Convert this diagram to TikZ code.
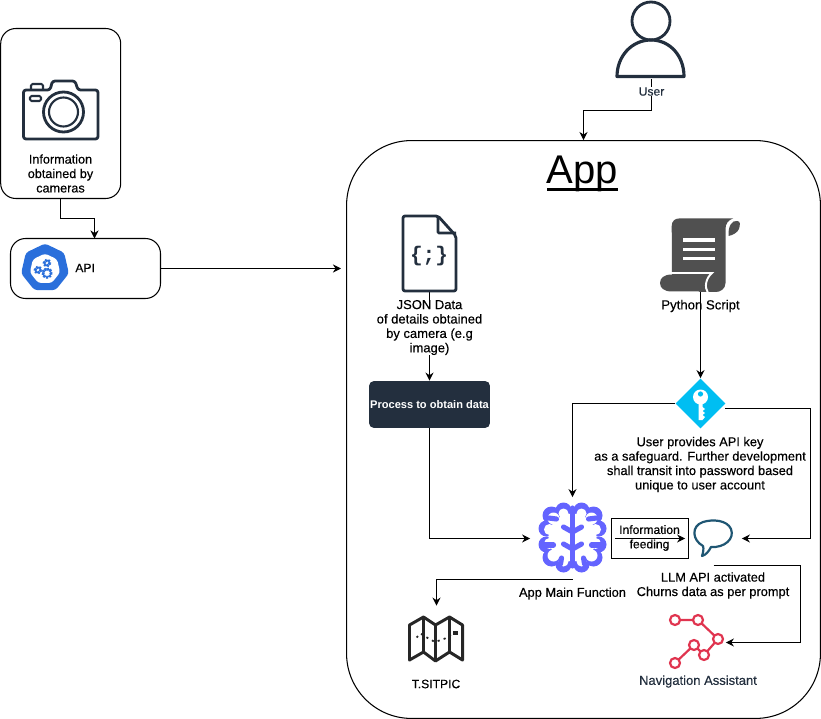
\documentclass[tikz,border=0pt]{standalone}
\usepackage{fontspec}
\setmainfont{Liberation Sans}
\newfontfamily\lablfont[FakeBold=0.35]{Liberation Sans}
\newfontfamily\monofont{Liberation Mono}
\usetikzlibrary{arrows.meta,shapes.geometric}
\definecolor{dark1}{HTML}{232F3E}
\definecolor{gray1}{HTML}{505050}
\definecolor{blue1}{HTML}{2A6FDB}
\definecolor{cyan1}{HTML}{00BEF2}
\definecolor{purple1}{HTML}{6464FF}
\definecolor{teal1}{HTML}{1F5673}
\definecolor{red1}{HTML}{E0344F}
\tikzset{
  boxr/.style={draw,line width=0.6pt,rounded corners=0.3cm,inner sep=0},
  iconspot/.style={inner sep=0},
  labl/.style={inner sep=0,align=center,font=\fontsize{#1}{8.2}\lablfont},
  labl/.default=7.4,
  conn/.style={line width=0.6pt,->},
  ink/.style={draw=dark1,line width=1.6pt,line join=round},
  brainarm/.style={purple1,line width=2.9pt,line cap=round,line join=round}
}

\begin{document}
\begin{tikzpicture}[>={Stealth[length=4.6pt,width=4.6pt]},x=0.02cm,y=-0.02cm]

    \useasboundingbox (0,0) rectangle (821,719);

    % boxes
    \node[boxr,minimum width=2.4cm,minimum height=3.4cm] (cambox) at (60.7,113.5) {};
    \node[boxr,minimum width=3cm,minimum height=1.2cm] (apibox) at (85.5,268.5) {};
    \node[boxr,rounded corners=1.3cm,minimum width=9.48cm,minimum height=11.56cm] (appbox) at (583.5,429.5) {};
    \node[fill=dark1,rounded corners=0.1cm,inner sep=0,minimum width=2.42cm,minimum height=0.94cm,
      text=white,font=\fontsize{6.3}{8.2}\selectfont\bfseries] (procbox) at (429.5,404.5) {Process to obtain data};
    \node[draw,line width=0.6pt,inner sep=0,minimum width=1.54cm,minimum height=0.8cm] (feedbox) at (650,538.5) {};

    % spots of the icons
    \node[iconspot,minimum width=1.4cm,minimum height=1.56cm] (userimg) at (651.5,39.5) {};
    \node[iconspot,minimum width=1.1cm,minimum height=1.54cm] (fileimg) at (429.5,253.5) {};
    \node[iconspot,minimum width=1.6cm,minimum height=1.48cm] (scriptimg) at (700.5,255) {};
    \node[diamond,fill=cyan1,inner sep=0,minimum width=1cm,minimum height=1cm] (keyimg) at (700.5,403.5) {};
    \node[iconspot,minimum width=1.68cm,minimum height=1.64cm] (brainimg) at (572.5,538.5) {};
    \node[iconspot,minimum width=1.12cm,minimum height=1.08cm] (bubbleimg) at (713.5,538.5) {};
    \node[iconspot,minimum width=1.08cm,minimum height=1.32cm] (mapimg) at (436.5,639) {};
    \node[iconspot,minimum width=1.08cm,minimum height=1.0cm] (navimg) at (698.5,642.5) {};

    \coordinate (apitop) at (94.5,238.5);
    \coordinate (appin) at (341,268.5);
    \coordinate (keyout) at (725,408.5);

    % connectors
    \draw[conn] (cambox.south) --++ (0,19.8) -| (apitop);
    \draw[conn] (apibox.east) -- (appin);
    \draw[conn] (userimg.south) --++ (0,32) -| (appbox.north);
    \draw[conn] (fileimg.south) -- (procbox.north);
    \draw[conn] (procbox.south) |- (brainimg.west);
    \draw[conn] (scriptimg.south) -- (keyimg.north);
    \draw[conn] (keyimg.west) -| (brainimg.north);
    \draw[conn] (keyout) --++ (85.5,0) |- (bubbleimg.east);
    \draw[conn] (brainimg.south) -| (mapimg.north);
    \draw[conn] (bubbleimg.south) --++ (87,0) |- (navimg.east);

    % camera
    \draw[ink,rounded corners=0.05cm] (23.5,90) -- (50,90) -- (52.5,81) -- (75,81) -- (78,90) -- (98,90)
      -- (98,139) -- (23.5,139) -- cycle;
    \draw[ink,line width=1.2pt,rounded corners=0.03cm] (31,90) -- (31,84) -- (43,84) -- (43,90);
    \draw[ink,line width=1.2pt,rounded corners=0.03cm] (30,96) rectangle (41,101);
    \draw[ink] (63.5,112) circle[radius=20];
    \draw[ink,line width=1.2pt] (63.5,112) circle[radius=14.5];

    % kubernetes heptagon
    \node[regular polygon,regular polygon sides=7,fill=blue1,rounded corners=0.06cm,inner sep=0,minimum size=0.98cm] (apiimg) at (45,268) {};
    \node[regular polygon,regular polygon sides=7,fill=white,rounded corners=0.06cm,inner sep=0,minimum size=0.62cm] (apiinner) at (45,269) {};
    \foreach \gx/\gy/\gr in {47/273/4.2,38/270/2.8,47/263/2.8}{
      \draw[blue1,line width=1.7pt,dash pattern=on 0.8pt off 0.8pt] (\gx,\gy) circle[radius=\gr];
      \draw[blue1,line width=0.7pt] (\gx,\gy) circle[radius=\gr];
    }

    % user
    \draw[ink] (651,21) circle[radius=19];
    \draw[ink,line width=1.8pt] (617,76.5) .. controls (617,56) and (632,40) .. (651,40)
      .. controls (670,40) and (684,56) .. (684,76.5) -- cycle;

    % json file
    \draw[ink,rounded corners=0.04cm] (403,216) -- (438,216) -- (456,236) -- (456,291) -- (403,291) -- cycle;
    \draw[ink,rounded corners=0.02cm] (438,216) -- (438,233) -- (456,233);
    \node[iconspot,text=dark1,font=\fontsize{12}{12}\monofont\bfseries] (jsonmark) at (429,256) {\{;\}};

    % script
    \fill[gray1] (679,218.5) -- (733,218.5) .. controls (728,220) and (725.5,224) .. (725.5,229) -- (725.5,283)
      .. controls (725.5,289) and (720,292) .. (716,292) -- (700,292) -- (672,275)
      -- (671.7,226) .. controls (671.7,221) and (675,218.5) .. (679,218.5) -- cycle;
    \fill[gray1] (728.5,236) .. controls (728,226) and (732,220) .. (737,221)
      .. controls (741,221) and (740,225) .. (739,229) .. controls (737,233) and (733,235) .. (728.5,236) -- cycle;
    \fill[gray1] (672,274.5) -- (709,274.5) .. controls (703,279) and (703,287) .. (706,291.5) -- (672,291.5)
      .. controls (664,291.5) and (660,288) .. (660,283) .. controls (660,278) and (664,274.5) .. (672,274.5) -- cycle;
    \draw[white,line width=1.1pt] (671,273) -- (712,273) .. controls (706,278) and (704,287) .. (708,293);
    \foreach \ly in {240,249.5,258.5}
      \draw[white,line width=1.9pt] (683,\ly) -- (715,\ly);

    % key
    \fill[white] (700.5,397) circle[radius=7.5];
    \fill[cyan1] (700.5,394) circle[radius=2.6];
    \fill[white] (698.5,402) -- (702.5,402) -- (702.5,407) -- (705,409) -- (702.5,411) -- (705,413) -- (702.5,415)
      -- (705,417) -- (702.5,420) -- (698.5,420) -- cycle;

    % brain
    \foreach \sgn in {-1,1}
      \foreach \bx/\by/\br in {9/-27/8,21/-22/9,26/-9/8,26/7/8,21/20/9,9/27/8}
        \fill[purple1] (572.5+\sgn*\bx,537.5+\by) circle[radius=\br];
    \fill[white] (572.5,537.5) circle[radius=24];
    \foreach \sgn in {-1,1}
      \foreach \bx/\by/\br in {9/-24/5,19/-19/6,23/-8/5.5,23/6/5.5,19/18/6,9/24/5}
        \fill[white] (572.5+\sgn*\bx,537.5+\by) circle[radius=\br];
    \draw[brainarm] (572.5,508) -- (572.5,566);
    \foreach \sgn in {-1,1}{
      \draw[brainarm] (572.5,532) -- (572.5+\sgn*9,527);
      \draw[brainarm] (572.5,549) -- (572.5+\sgn*9,544);
      \draw[brainarm] (572.5+\sgn*24,518) -- (572.5+\sgn*16,519);
      \draw[brainarm] (572.5+\sgn*28,545) -- (572.5+\sgn*19,545);
      \draw[brainarm] (572.5+\sgn*12,564) -- (572.5+\sgn*11,558);
    }

    % speech bubble
    \draw[teal1,line width=1.25pt,line join=round] (703,546) .. controls (692,540) and (691,526) .. (703,522)
      .. controls (713,519) and (727,520) .. (731,529) .. controls (735,539) and (724,548) .. (711,547)
      .. controls (709,551) and (706,555) .. (702,556) .. controls (703,553) and (704,549) .. (703,546) -- cycle;

    % map
    \draw[black!85,line width=1.7pt,line join=round] (409.5,625) -- (423.5,617) -- (435.5,625) -- (449.5,617) -- (462.5,625)
      -- (462.5,660) -- (449.5,652) -- (435.5,661) -- (423.5,652) -- (409.5,660) -- cycle;
    \draw[black!85,line width=1.3pt] (423.5,617) -- (423.5,652);
    \draw[black!85,line width=2.2pt] (435.5,625) -- (435.5,661);
    \draw[black!85,line width=1.3pt] (449.5,617) -- (449.5,652);
    \draw[black!85,line width=1pt,dash pattern=on 1.2pt off 2.4pt] (416.5,637.5) -- (420.5,633.5) -- (428.5,638.5)
      -- (435,642) -- (445,638.5) -- (452,634);
    \fill[black!85] (453,630.5) rectangle (457.5,635);

    % navigation route
    \draw[red1,line width=1.25pt,line join=round] (675,620) -- (698,620) -- (718,639) -- (704,655) -- (694,645) -- (675,663);
    \foreach \nx/\ny in {675/620,698/620,718/639,704/655,694/645,675/663}
      \draw[red1,fill=white,line width=1.25pt] (\nx,\ny) circle[radius=5];

    % labels
    \node[labl=7.2] (camlabel) at (60.5,173.5) {Information\\obtained by\\cameras};
    \node[labl=6.9,anchor=west] (apilabel) at (75,268) {API};
    \node[labl=6.9,fill=white,text=dark1,minimum width=0.6cm] (userlabel) at (651.5,91.5) {User};
    \node[font=\fontsize{22.8}{24}\selectfont,inner sep=0] (apptitle) at (582.5,174) {App};
    \draw[line width=1.5pt] (547,189.5) -- (618,189.5);
    \node[labl,fill=white] (jsonlabel) at (429.5,327.5) {JSON Data\\of details obtained\\by camera (e.g\\image)};
    \node[labl=7.5] (scriptlabel) at (700.5,306) {Python Script};
    \node[labl=7.3] (keylabel) at (700,464.5) {User provides API key\\as a safeguard. Further development\\shall transit into password based\\unique to user account};
    \node[labl=6.9] (feedlabel) at (649.5,538) {Information\\feeding};
    \draw[conn] (brainimg.east) -- (bubbleimg.west);
    \node[labl=7.3] (brainlabel) at (572.5,593.5) {App Main Function};
    \node[labl=7.3] (llmlabel) at (713,585.5) {LLM API activated\\Churns data as per prompt};
    \node[labl=6.9] (maplabel) at (436,684) {T.SITPIC};
    \node[labl,text=dark1] (navlabel) at (698,681.5) {Navigation Assistant};

\end{tikzpicture}
\end{document}
